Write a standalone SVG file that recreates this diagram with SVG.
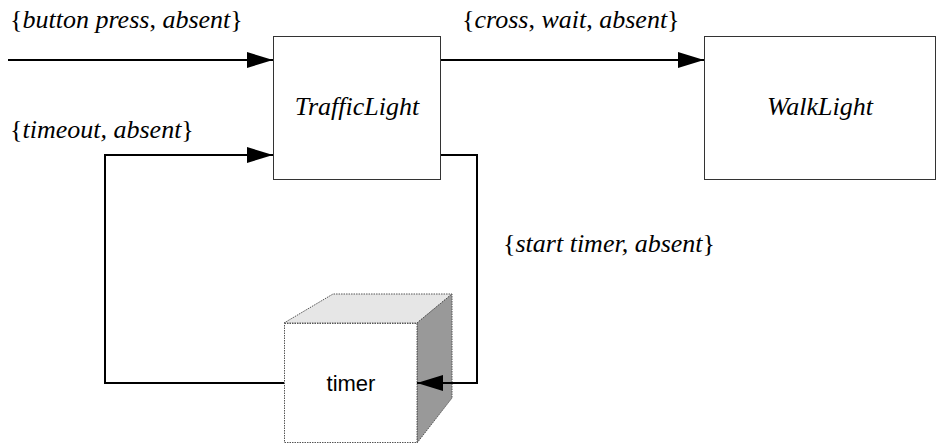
<svg xmlns="http://www.w3.org/2000/svg" width="936" height="444" viewBox="0 0 936 444">
<defs>
<marker id="arr" markerWidth="26" markerHeight="16" refX="26" refY="8" orient="auto" markerUnits="userSpaceOnUse">
<path d="M0,0 L26,8 L0,16 Z" fill="#000"/>
</marker>
<style>
.box{fill:#fff;stroke:#333;stroke-width:1}
.conn{fill:none;stroke:#000;stroke-width:2}
.it{font-style:italic}
.cube{stroke:#555;stroke-width:1;stroke-dasharray:1.5,1}
</style>
</defs>
<rect width="936" height="444" fill="#fff"/>
<g id="TrafficLight">
<rect class="box" x="273.5" y="36.5" width="167" height="143"/>
<text x="357" y="115" text-anchor="middle" font-family="Liberation Serif, Times New Roman, DejaVu Serif, serif" font-size="26" font-style="italic">TrafficLight</text>
</g>
<g id="WalkLight">
<rect class="box" x="704.5" y="36.5" width="231" height="143"/>
<text x="820" y="115" text-anchor="middle" font-family="Liberation Serif, Times New Roman, DejaVu Serif, serif" font-size="26" font-style="italic">WalkLight</text>
</g>
<g id="timer">
<polygon class="cube" points="284,323 333,294 452,294 417,323" fill="#e6e6e6"/>
<polygon class="cube" points="417,323 452,294 452,398 417,443" fill="#999"/>
<rect class="cube" x="284.5" y="323.5" width="132.5" height="119" fill="#fff"/>
<text x="351" y="391" text-anchor="middle" font-family="Liberation Sans, Arial, sans-serif" font-size="22">timer</text>
</g>
<g id="connectors">
<path class="conn" d="M8,60 H273" marker-end="url(#arr)"/>
<path class="conn" d="M441,60 H704" marker-end="url(#arr)"/>
<path class="conn" d="M284,383 H105 V155 H273" marker-end="url(#arr)"/>
<path class="conn" d="M441,155 H477 V383 H417" marker-end="url(#arr)"/>
</g>
<g id="labels" font-family="Liberation Serif, Times New Roman, DejaVu Serif, serif" font-size="26">
<text x="10" y="28">{<tspan class="it">button press</tspan>, <tspan class="it">absent</tspan>}</text>
<text x="462" y="28">{<tspan class="it">cross</tspan>, <tspan class="it">wait</tspan>, <tspan class="it">absent</tspan>}</text>
<text x="10" y="138">{<tspan class="it">timeout, absent</tspan>}</text>
<text x="503" y="252">{<tspan class="it">start timer, absent</tspan>}</text>
</g>
</svg>
